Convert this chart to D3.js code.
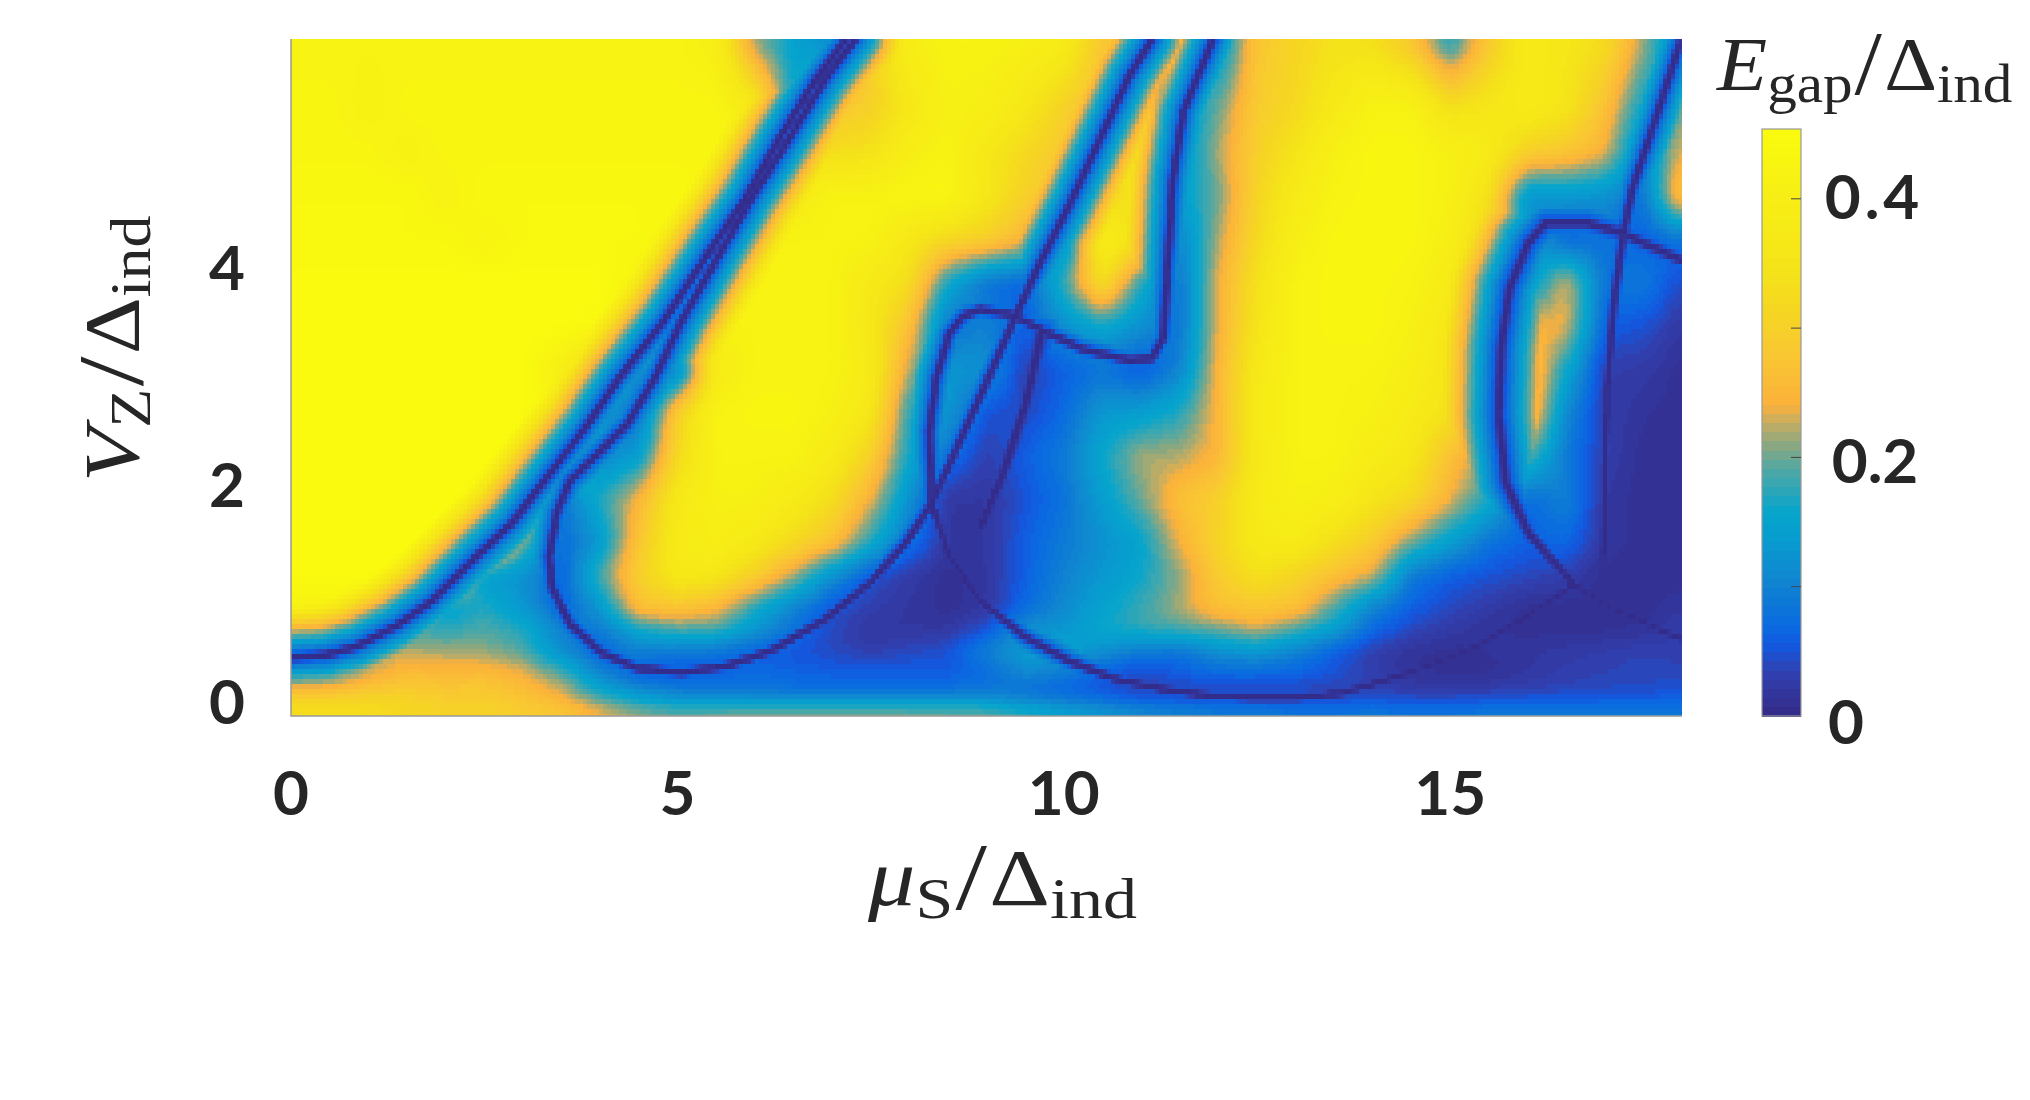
<!DOCTYPE html>
<html><head><meta charset="utf-8">
<script src="https://cdn.jsdelivr.net/npm/d3@7"></script>
<style>html,body{margin:0;background:#fff}svg{display:block}</style></head>
<body><svg id="c" width="2030" height="1100"></svg>
<script>
// --- data ---
const muValues=d3.range(37).map(i=>i*0.5);
const vzValues=[0,.2,.4,.6,.8,1,1.3,1.6,2,2.4,2.8,3.2,3.6,4,4.4,4.8,5.2,5.6,6.24];
const gapRows=[
[.34,.35,.34,.32,.31,.31,.30,.29,.26,.23,.22,.23,.235,.24,.24,.24,.235,.23,.22,.20,.17,.15,.13,.12,.11,.105,.10,.10,.10,.10,.10,.10,.10,.10,.10,.10,.10],
[.30,.29,.30,.30,.29,.29,.27,.24,.17,.13,.10,.09,.085,.08,.08,.08,.08,.085,.09,.07,.06,.05,.035,.03,.03,.03,.03,.03,.035,.03,.03,.035,.04,.04,.045,.045,.05],
[.13,.16,.22,.26,.25,.26,.24,.19,.10,.05,.05,.06,.07,.065,.06,.06,.06,.055,.07,.11,.09,.06,.04,.06,.07,.07,.065,.05,.03,.015,.01,.01,.02,.03,.035,.04,.04],
[.22,.22,.22,.22,.22,.21,.19,.11,.06,.10,.09,.08,.06,.05,.04,.03,.04,.05,.10,.14,.15,.12,.09,.08,.12,.13,.10,.06,.03,.015,.01,.015,.02,.025,.03,.035,.03],
[.26,.32,.27,.18,.17,.19,.17,.10,.09,.16,.19,.19,.13,.08,.04,.02,.02,.02,.05,.12,.13,.16,.18,.19,.20,.23,.19,.14,.07,.04,.025,.015,.01,.01,.01,.015,.03],
[.42,.42,.38,.30,.14,.17,.13,.06,.13,.27,.28,.25,.17,.10,.05,.03,.02,.01,.02,.07,.11,.15,.18,.22,.27,.28,.27,.19,.10,.06,.04,.025,.01,.01,.01,.01,.02],
[.45,.45,.45,.44,.33,.14,.12,.06,.19,.30,.37,.36,.30,.22,.12,.05,.025,.01,.02,.06,.10,.13,.16,.21,.29,.34,.31,.27,.23,.09,.06,.05,.04,.03,.01,.01,.01],
[.45,.45,.45,.45,.45,.42,.20,.07,.13,.28,.38,.40,.37,.32,.27,.17,.08,.02,.02,.06,.09,.12,.15,.24,.31,.37,.38,.33,.29,.20,.14,.08,.06,.07,.02,.01,.01],
[.45,.45,.45,.45,.45,.44,.36,.08,.17,.25,.37,.41,.41,.38,.33,.24,.12,.02,.02,.05,.08,.14,.20,.27,.30,.38,.41,.40,.35,.32,.24,.17,.07,.10,.02,.01,.01],
[.45,.45,.45,.45,.45,.45,.45,.35,.10,.14,.32,.42,.42,.42,.38,.30,.16,.08,.03,.06,.09,.16,.22,.22,.25,.37,.42,.42,.39,.36,.27,.20,.20,.09,.03,.01,.01],
[.45,.45,.45,.45,.45,.45,.45,.42,.13,.07,.30,.42,.43,.43,.41,.36,.17,.13,.05,.04,.07,.13,.14,.17,.25,.38,.42,.42,.41,.38,.34,.22,.30,.11,.03,.015,.01],
[.45,.45,.45,.45,.45,.45,.45,.40,.30,.10,.08,.38,.42,.42,.42,.38,.22,.13,.12,.03,.06,.08,.05,.10,.25,.37,.42,.42,.42,.40,.35,.22,.30,.16,.03,.025,.01],
[.45,.45,.45,.45,.45,.45,.45,.45,.44,.38,.30,.42,.42,.42,.42,.36,.27,.08,.10,.06,.12,.16,.12,.08,.24,.35,.42,.43,.43,.41,.36,.22,.25,.24,.06,.05,.02],
[.45,.45,.45,.45,.45,.45,.45,.45,.45,.42,.34,.40,.42,.42,.42,.37,.33,.16,.08,.06,.18,.34,.17,.08,.24,.34,.42,.43,.43,.42,.38,.26,.12,.24,.08,.09,.04],
[.44,.44,.44,.44,.44,.42,.44,.44,.44,.44,.42,.35,.42,.42,.42,.42,.36,.32,.30,.25,.10,.40,.34,.10,.22,.32,.40,.43,.43,.43,.40,.30,.14,.06,.08,.06,.08],
[.44,.44,.44,.44,.415,.44,.44,.44,.44,.44,.44,.42,.35,.38,.42,.42,.43,.43,.36,.30,.26,.30,.36,.14,.20,.31,.38,.42,.43,.43,.41,.34,.12,.13,.12,.08,.30],
[.43,.43,.43,.41,.43,.43,.43,.43,.43,.43,.43,.43,.42,.34,.33,.34,.40,.42,.36,.32,.28,.25,.40,.12,.22,.30,.35,.41,.43,.43,.41,.38,.30,.28,.24,.10,.25],
[.43,.43,.41,.43,.43,.43,.43,.43,.43,.43,.43,.43,.38,.15,.28,.30,.36,.41,.40,.36,.30,.25,.30,.12,.20,.29,.32,.37,.42,.42,.34,.36,.38,.35,.27,.15,.20],
[.42,.42,.42,.42,.42,.42,.42,.42,.42,.42,.42,.40,.20,.15,.10,.30,.40,.42,.42,.41,.39,.28,.27,.30,.12,.28,.31,.34,.33,.27,.15,.28,.38,.36,.33,.22,.08]
];
// gap-closing lines, [mu, Vz] points
const lineA=[[0,.54],[.44,.56],[.84,.64],[1.36,.83],[1.82,1.06],[2.34,1.43],[2.86,1.78],[3.32,2.21],[3.79,2.64],[4.25,3.12],[4.83,3.65],[5.40,4.27],[5.87,4.76],[6.33,5.34],[6.79,5.87],[7.19,6.25]];
const lineB=[[7.31,6.25],[6.91,5.87],[6.39,5.26],[5.98,4.80],[5.52,4.23],[5.06,3.65],[4.71,3.12],[4.36,2.70],[3.90,2.37],[3.61,2.17],[3.44,1.88],[3.34,1.47],[3.38,1.18],[3.61,.85],[4.02,.58],[4.48,.44],[5.06,.40],[5.63,.46],[6.21,.60],[6.91,.89],[7.48,1.22],[7.95,1.59],[8.29,1.96],[8.92,2.95],[9.15,3.32],[9.41,3.74],[9.68,4.16],[10.09,4.74],[10.5,5.37],[10.85,5.91],[11.14,6.24]];
const lineC=[[11.93,6.24],[11.55,5.58],[11.41,4.95],[11.35,4.24],[11.29,3.49],[11.14,3.30],[10.85,3.28],[10.26,3.38],[9.8,3.53],[9.33,3.70],[8.92,3.75],[8.70,3.69],[8.52,3.53],[8.35,3.12],[8.26,2.62],[8.29,1.96],[8.52,1.47],[8.92,1.06],[9.5,.73],[10.09,.50],[10.67,.34],[11.26,.25],[11.85,.19],[12.43,.17],[13.02,.17],[13.6,.21],[14.48,.40],[15.36,.65],[15.95,.90],[16.6,1.21],[17.12,.98],[18,.71]];
const lineD=[[9.71,3.53],[9.5,2.86],[9.21,2.23],[8.92,1.73]];
const lineE=[[18,4.2],[17.24,4.45],[16.77,4.55],[16.24,4.55],[16.01,4.36],[15.77,3.95],[15.66,3.40],[15.63,2.78],[15.72,2.15],[16.01,1.69],[16.6,1.21]];
const lineF=[[17.97,6.2],[17.65,5.49],[17.36,4.87],[17.24,4.45],[17.12,3.82],[17.03,2.99],[17.0,2.15],[16.98,1.3]];
const gapLines=[lineA,lineB,lineC,lineD,lineE,lineF];
const lineSteepness=[1,1,1,.6,.78,1];
const colorStopValues=[0,.034,.055,.069,.105,.14,.158,.175,.193,.21,.228,.241,.282,.317,.353,.40,.454];
const colorStops=["#352a87","#3040b0","#1259e0","#0a6ae0","#1085d0","#079ecf","#06a5cc","#2ea6b8","#55a8a0","#8ba880","#c8ad60","#fbb13a","#f8c832","#f5d820","#f5e618","#f7ee15","#f9fb0e"];
const xTicks=[0,5,10,15], yTicks=[0,2,4], barTicks=[.1,.2,.3,.4], barLabels=[[.4,"0.4",-4],[.2,"0.2",2],[0,"0",4]];

// gap rise with pixel distance from a closing line: dark core, steep edge, gentler flank
const lineProfile=d3.scaleLinear().domain([0,2.5,5.5,60]).range([0,.012,.07,.48]);

// --- scales ---
const svg=d3.select("#c");
const x=d3.scaleLinear().domain([0,18]).range([291,1682]);
const y=d3.scaleLinear().domain([0,6.245]).range([716,39]);
const muIdx=d3.scaleLinear().domain(muValues).range(muValues.map((_,i)=>i)).clamp(true);
const vzIdx=d3.scaleLinear().domain(vzValues).range(vzValues.map((_,i)=>i)).clamp(true);
const ramp=d3.scaleLinear().domain(colorStopValues).range(colorStops).clamp(true);
const levels=64, vmax=.454;
const color=v=>ramp((Math.min(levels-1,Math.floor(v/vmax*levels))+.5)*vmax/levels);

// --- heat cells ---
const cw=4, ch=5;
const nx=Math.ceil((x.range()[1]-x.range()[0])/cw), ny=Math.ceil((y.range()[0]-y.range()[1])/ch);
let base=new Float64Array(nx*ny);
for(let j=0;j<ny;j++)for(let i=0;i<nx;i++){
  const mu=x.invert(x.range()[0]+(i+.5)*cw), vz=y.invert(y.range()[1]+(j+.5)*ch);
  const a=muIdx(mu),b=vzIdx(vz),a0=Math.min(35,Math.floor(a)),b0=Math.min(17,Math.floor(b)),fa=a-a0,fb=b-b0;
  base[j*nx+i]=(1-fb)*((1-fa)*gapRows[b0][a0]+fa*gapRows[b0][a0+1])+fb*((1-fa)*gapRows[b0+1][a0]+fa*gapRows[b0+1][a0+1]);
}
// light smoothing so the coarse reading grid does not show
const R=2; let smooth=new Float64Array(nx*ny);
for(let j=0;j<ny;j++)for(let i=0;i<nx;i++){let s=0,n=0;
  for(let dj=-R;dj<=R;dj++)for(let di=-R;di<=R;di++){const jj=j+dj,ii=i+di;if(jj<0||ii<0||jj>=ny||ii>=nx)continue;s+=base[jj*nx+ii];n++;}
  smooth[j*nx+i]=s/n;}
const lineSegs=gapLines.map(l=>{const s=[];for(let k=0;k<l.length-1;k++)s.push([x(l[k][0]),y(l[k][1]),x(l[k+1][0]),y(l[k+1][1])]);return s;});
function lineDist(segs,px,py){let best=1e9;for(const s of segs){const dx=s[2]-s[0],dy=s[3]-s[1];let t=((px-s[0])*dx+(py-s[1])*dy)/(dx*dx+dy*dy);t=t<0?0:t>1?1:t;const ex=s[0]+t*dx-px,ey=s[1]+t*dy-py,d=ex*ex+ey*ey;if(d<best)best=d;}return Math.sqrt(best);}
const cells=[];
for(let j=0;j<ny;j++)for(let i=0;i<nx;i++){
  const px=x.range()[0]+i*cw, py=y.range()[1]+j*ch;
  let v=smooth[j*nx+i];
  lineSegs.forEach((segs,k)=>{v=Math.min(v,lineSteepness[k]*lineProfile(lineDist(segs,px+cw/2,py+ch/2)));});
  cells.push({px,py,v});
}
svg.append("g").attr("shape-rendering","crispEdges").selectAll("rect").data(cells).join("rect")
  .attr("x",d=>d.px).attr("y",d=>d.py).attr("width",d=>Math.min(cw,x.range()[1]-d.px)).attr("height",d=>Math.min(ch,y.range()[0]-d.py)).attr("fill",d=>color(d.v));
// frame
svg.append("path").attr("d",`M${x.range()[0]},${y.range()[1]}V${y.range()[0]}H${x.range()[1]}`).attr("fill","none").attr("stroke","#999").attr("stroke-width",1.5);

// --- text helpers ---
const tickFont="Lato", mathFont="'Liberation Serif'";
function tick(t,px,py,txt,fs,ls){t.append("text").attr("x",px).attr("y",py).attr("text-anchor","middle").attr("dominant-baseline","central").attr("font-family",tickFont).attr("font-weight",700).attr("font-size",fs).attr("letter-spacing",ls||0).attr("fill","#262626").text(txt);}
xTicks.forEach(t=>tick(svg,x(t),791,t,62));
yTicks.forEach(t=>tick(svg,227,y(t)-16,t,62));

function mathTitle(g,parts,fs){
  const tx=g.append("text").attr("font-family",mathFont).attr("font-size",fs).attr("fill","#262626");
  parts.forEach(p=>{const s=tx.append("tspan").text(p.t);
    if(p.i)s.attr("font-style","italic");
    if(p.sub){s.attr("font-size",fs*.72).attr("dy",fs*.16);}
    if(p.up){s.attr("dy",-fs*.16+fs*.05).attr("font-size",fs*1.2);}
    if(p.delta){s.attr("dy",-fs*.05);}
    if(p.dx)s.attr("dx",p.dx);});
  return tx;
}
const g1=svg.append("g").attr("transform","translate(868,905) scale(1.18,1)");
mathTitle(g1,[{t:"μ",i:1},{t:"S",sub:1},{t:"/",up:1,dx:2},{t:"Δ",delta:1,dx:2},{t:"ind",sub:1}],80);
const g2=svg.append("g").attr("transform","translate(138,482) rotate(-90) scale(1.14,1)");
mathTitle(g2,[{t:"V",i:1},{t:"Z",sub:1},{t:"/",up:1,dx:2},{t:"Δ",delta:1,dx:2},{t:"ind",sub:1}],78);
const g3=svg.append("g").attr("transform","translate(1717,90) scale(1.08,1)");
mathTitle(g3,[{t:"E",i:1},{t:"gap",sub:1},{t:"/",up:1,dx:2},{t:"Δ",delta:1,dx:2},{t:"ind",sub:1}],76);

// --- colour bar ---
const barY=d3.scaleLinear().domain([0,vmax]).range([716,129]);
const barX0=1762,barX1=1801;
const barLevels=d3.range(levels).map(i=>i*vmax/levels);
svg.append("g").attr("shape-rendering","crispEdges").selectAll("rect").data(barLevels).join("rect")
  .attr("x",barX0).attr("width",barX1-barX0).attr("y",d=>barY(d+vmax/levels)).attr("height",d=>barY(d)-barY(d+vmax/levels)+.5).attr("fill",d=>color(d+1e-6));
svg.append("rect").attr("x",barX0).attr("y",129).attr("width",barX1-barX0).attr("height",587).attr("fill","none").attr("stroke","#999").attr("stroke-width",1.2);
svg.append("g").selectAll("line").data(barTicks).join("line").attr("x1",barX1-10).attr("x2",barX1).attr("y1",d=>barY(d)).attr("y2",d=>barY(d)).attr("stroke","#444").attr("stroke-width",1);
barLabels.forEach(([v,s,o])=>{tick(svg,v===0?1846:(v===.4?1874:1875),barY(v)+o,s,62,v===.4?4:0);});
</script></body></html>
